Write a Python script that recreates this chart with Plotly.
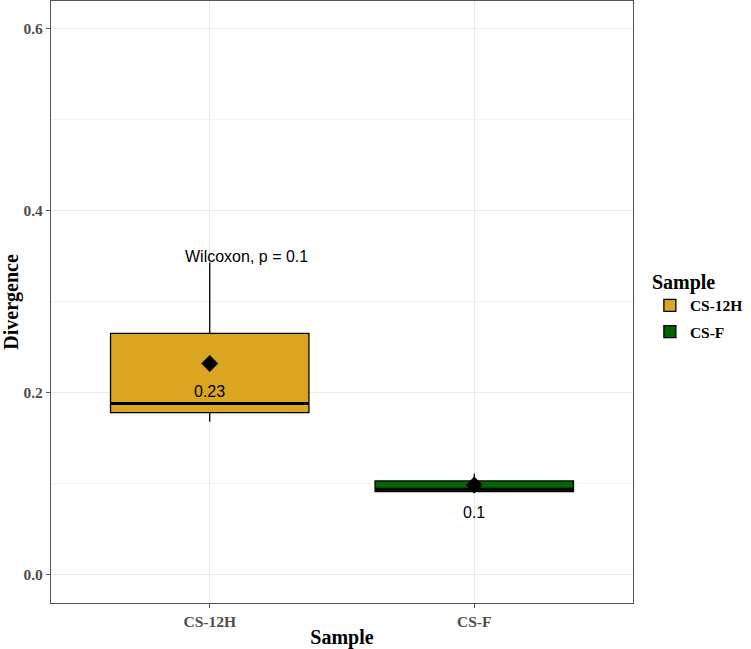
import plotly.graph_objects as go

# values
samples = ["CS-12H", "CS-F"]
q1 = [0.178, 0.0912]
median = [0.188, 0.094]
q3 = [0.265, 0.103]
lower = [0.168, 0.0898]
upper = [0.343, 0.111]
means = [0.232, 0.0986]
mean_labels = ["0.23", "0.1"]
colors = ["#DAA520", "#006400"]
p_label = "Wilcoxon, p = 0.1"
y_ticks = [0, 0.2, 0.4, 0.6]

serif = "Liberation Serif"
sans = "Liberation Sans"
xpos = list(range(len(samples)))
half = 0.375

fig = go.Figure()

for i, s in enumerate(samples):
    fig.add_trace(go.Box(
        x=[xpos[i]], q1=[q1[i]], median=[median[i]], q3=[q3[i]],
        lowerfence=[lower[i]], upperfence=[upper[i]],
        name="<b>" + s + "</b>", legendgroup=s, width=2 * half, whiskerwidth=0,
        fillcolor=colors[i], line=dict(color="black", width=1.3),
        boxpoints=False, hoverinfo="skip",
    ))
    # thicker median line, like ggplot's fatten
    fig.add_trace(go.Scatter(
        x=[xpos[i] - half, xpos[i] + half], y=[median[i], median[i]],
        mode="lines", line=dict(color="black", width=3),
        showlegend=False, legendgroup=s, hoverinfo="skip",
    ))

fig.add_trace(go.Scatter(
    x=xpos, y=means, mode="markers",
    marker=dict(symbol="diamond", size=13, color="black"),
    showlegend=False, hoverinfo="skip",
))

for i in range(len(samples)):
    fig.add_annotation(x=xpos[i], y=means[i], text=mean_labels[i], showarrow=False,
                       yshift=-28, font=dict(family=sans, size=16, color="black"))

fig.add_annotation(x=-0.1, y=0.349, text=p_label, showarrow=False, xanchor="left",
                   font=dict(family=sans, size=16, color="black"))

axis_common = dict(
    showline=True, mirror=True, linecolor="#555555", linewidth=1.3,
    ticks="outside", ticklen=4, tickcolor="#555555",
    gridcolor="#EBEBEB", gridwidth=1, zeroline=False, automargin=False,
    tickfont=dict(family=serif, size=15.5, color="#4D4D4D"),
)

fig.update_layout(
    width=751, height=649,
    margin=dict(l=51, r=118, t=1, b=46),
    plot_bgcolor="white", paper_bgcolor="white",
    xaxis=dict(range=[-0.6, 1.6], tickvals=xpos, ticktext=["<b>%s</b>" % s for s in samples],
               title=dict(text="<b>Sample</b>", font=dict(family=serif, size=20, color="black")),
               **axis_common),
    yaxis=dict(range=[-0.031, 0.63], tickvals=y_ticks, ticktext=["<b>%.1f</b>" % v for v in y_ticks],
               minor=dict(tickvals=[0.1, 0.3, 0.5], showgrid=True, gridcolor="#F3F3F3"),
               title=dict(text="<b>Divergence</b>", font=dict(family=serif, size=20, color="black")),
               **axis_common),
    legend=dict(
        title=dict(text="<b>Sample</b>", font=dict(family=serif, size=20, color="black")),
        font=dict(family=serif, size=15.5, color="black"),
        tracegroupgap=3,
        x=1.029, y=0.565, xanchor="left", yanchor="top",
    ),
    showlegend=True,
)

fig.write_html("out.html", config={"displayModeBar": False},
               post_script="document.body.style.margin='0';")
